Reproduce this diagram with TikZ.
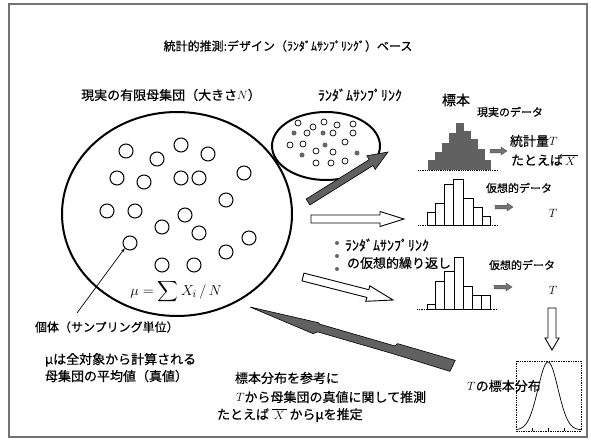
\documentclass[tikz,border=0pt]{standalone}
\usepackage{amsmath}
\usepackage{fontspec}
\setmainfont{Noto Sans CJK JP}[FakeBold=0.5]
\usetikzlibrary{calc,shapes.geometric,arrows.meta}
\newcommand\fs[1]{\fontsize{#1}{#1}\selectfont}
% style, from, to, shaft half width, head half width, head length
\newcommand\blkarrow[6]{%
  \coordinate (bahead) at ($(#3)!#6!(#2)$);
  \draw[#1] ($(#2)!#4!90:(#3)$) -- ($(bahead)!#4!90:(#3)$) -- ($(bahead)!#5!90:(#3)$) -- (#3)
    -- ($(bahead)!#5!-90:(#3)$) -- ($(bahead)!#4!-90:(#3)$) -- ($(#2)!#4!-90:(#3)$) -- cycle;}
\begin{document}
\begin{tikzpicture}[x=1pt,y=-1pt,
  txt/.style={inner sep=0pt, outer sep=0pt},
  unit/.style={circle, draw, line width=1pt, minimum size=14pt, inner sep=0pt},
  sdot/.style={circle, draw, line width=0.7pt, minimum size=6pt, inner sep=0pt},
  fdot/.style={circle, fill=black!60, minimum size=5pt, inner sep=0pt},
  hollow/.style={draw=black, fill=white, line width=0.9pt, line join=miter},
  darkarr/.style={draw=black, fill=black!62, line width=0.6pt},
  smallarr/.style={draw=black!70, fill=black!55, line width=0.4pt},
  hbar/.style={draw=black, line width=0.8pt, fill=white},
  base/.style={densely dotted, line width=0.8pt},
]
\useasboundingbox (0,0) rectangle (591,441);
\fill[white] (0,0) rectangle (591,441);
\draw[line width=2.2pt, black!55] (9,4) rectangle (587,437);

% title
\node[txt] (title) at (288,46) {\fs{12}統計的推測:デザイン（ﾗﾝﾀﾞﾑｻﾝﾌﾟﾘﾝｸﾞ）ベース};

% population
\node[txt] (poplbl) at (171,95) {\fs{13}現実の有限母集団（大きさ$N$）};
\node[draw, ellipse, line width=2pt, minimum width=230pt, minimum height=204pt] (pop) at (177,214) {};
\foreach \i/\p in {1/{126,151},2/{181,145},3/{157,159},4/{208,154},5/{117,178},
  6/{144,182},7/{181,178},8/{199,178},9/{244,173},10/{226,200},11/{107,211},
  12/{135,211},13/{185,215},14/{162,227},15/{199,233},16/{249,238},17/{130,243},
  18/{226,252},19/{162,265},20/{194,265}}
  \node[unit] (c\i) at (\p) {};
\node[txt] (mu) at (176,292) {\fs{15}$\mu=\displaystyle\sum X_i\,/\,N$};
\coordinate (ptr) at (77,313);
\draw[line width=0.7pt, -{Stealth[length=4pt,width=3pt]}] (ptr) -- (c17.south west);
\node[txt, anchor=west] (kotai) at (35,327) {\fs{12}個体（サンプリング単位）};
\node[txt, anchor=north west, align=left, font={\fontsize{13}{17}\selectfont}] (munote) at (45,353)
  {μは全対象から計算される\\母集団の平均値（真値）};

% sample ellipse
\node[txt] (samplbl) at (360,95) {\fs{14}ﾗﾝﾀﾞﾑｻﾝﾌﾟﾘﾝｸ};
\node[draw, ellipse, line width=2pt, minimum width=108pt, minimum height=68pt, fill=white] (samp) at (326,146) {};
\foreach \i/\p in {1/{298,123},2/{313,127},3/{324,122},4/{337,125},5/{353,124},
  6/{307,133},7/{333,133},8/{353,133},9/{290,145},10/{303,144},11/{345,142},
  12/{316,151},13/{333,152},14/{316,163},15/{331,163},16/{345,161}}
  \node[sdot] (s\i) at (\p) {};
\foreach \i/\p in {1/{294,133},2/{323,133},3/{325,145},4/{302,155},5/{357,153}}
  \node[fdot] (f\i) at (\p) {};

% arrows from population
\coordinate (a1s) at (308,202); \coordinate (a1e) at (388,152);
\blkarrow{darkarr}{a1s}{a1e}{3.5pt}{8pt}{20pt}
\coordinate (a2s) at (311,219); \coordinate (a2e) at (404,219);
\blkarrow{hollow}{a2s}{a2e}{4pt}{7.5pt}{24pt}
\coordinate (a3s) at (303,277); \coordinate (a3e) at (393,300);
\blkarrow{hollow}{a3s}{a3e}{4pt}{8pt}{26pt}

% sample histogram
\node[txt] (hyo) at (456,100) {\fs{14}標本};
\node[txt] (real) at (510,112) {\fs{11}現実のデータ};
\foreach \xa/\xb/\yt in {428/435.5/160,435/442.5/152,442/449.5/143,449/456.5/133,456/463.5/123,
  463/470.5/131,470/477.5/139,477/484.5/149,484/491/160}
  \fill[black!62] (\xa,\yt) rectangle (\xb,170);
\draw[base] (418,170) -- (498,170);
\coordinate (sa1s) at (490,151); \coordinate (sa1e) at (507,151);
\blkarrow{smallarr}{sa1s}{sa1e}{1.8pt}{4pt}{6pt}
\node[txt, anchor=west] (stat) at (510,141) {\fs{13}統計量$T$};
\node[txt, anchor=west] (eg1) at (511,160) {\fs{13}たとえば$\overline{\,X\,}$};

% hypothetical histogram 1
\foreach \xa/\xb/\yt in {427/435/212,435/444/203,444/453/184,453/463/179,463/473/198,473/482/207,482/490/216}
  \draw[hbar] (\xa,\yt) rectangle (\xb,225);
\draw[base] (418,225) -- (498,225);
\node[txt] (hyp1) at (519,188) {\fs{11}仮想的データ};
\coordinate (sa2s) at (495,207); \coordinate (sa2e) at (513,207);
\blkarrow{smallarr}{sa2s}{sa2e}{1.8pt}{4pt}{6pt}
\node[txt] (t1) at (553,213) {\fs{13}$T$};

% repetition label
\foreach \yy in {243,256,269} \fill[black!60] (337,\yy) circle (2);
\node[txt, anchor=west] (rep1) at (345,245) {\fs{14}ﾗﾝﾀﾞﾑｻﾝﾌﾟﾘﾝｸ};
\node[txt, anchor=west] (rep2) at (347,263) {\fs{13}の仮想的繰り返し};

% hypothetical histogram 2
\foreach \xa/\xb/\yt in {427/435/304,435/444/281,444/454/271,454/463/257,463/472/286,472/481/295,481/490/295}
  \draw[hbar] (\xa,\yt) rectangle (\xb,309);
\draw[base] (417,309) -- (497,309);
\node[txt] (hyp2) at (522,265) {\fs{11}仮想的データ};
\coordinate (sa3s) at (494,287); \coordinate (sa3e) at (512,287);
\blkarrow{smallarr}{sa3s}{sa3e}{1.8pt}{4pt}{6pt}
\node[txt] (t2) at (553,290) {\fs{13}$T$};

% down arrow and sampling distribution
\coordinate (dA) at (552,308); \coordinate (dB) at (552,350);
\blkarrow{hollow}{dA}{dB}{4pt}{7pt}{12pt}
\node[txt] (tdist) at (504,386) {\fs{13}$T$の標本分布};
\draw[densely dotted, line width=0.7pt] (516,361) rectangle (581,431);
\draw[line width=0.7pt] plot[domain=516:581, samples=80] (\x, {430 - 68*exp(-((\x-548)/10)^2/2)});
\foreach \xx in {532,548,564} \draw[line width=0.5pt] (\xx,431) -- (\xx,428);

% inference arrow (back to population)
\coordinate (inftip) at (250,307);
\begin{scope}[shift={(inftip)}, rotate=-16.2]
  \fill[black!62, draw=black, line width=0.6pt]
    (0,0) -- (70,-4) -- (72,-3) -- (150,-3) -- (152,-6) -- (212,-6)
    -- (210,6) -- (150,5) -- (72,5) -- (68,8) -- cycle;
\end{scope}

% bottom text
\node[txt, anchor=west] (b1) at (235,378) {\fs{13}標本分布を参考に};
\node[txt, anchor=west] (b2) at (236,397) {\fs{13}$T$から母集団の真値に関して推測};
\node[txt, anchor=west] (b3) at (217,415) {\fs{13}たとえば $\overline{\,X\,}$ からμを推定};
\end{tikzpicture}
\end{document}
